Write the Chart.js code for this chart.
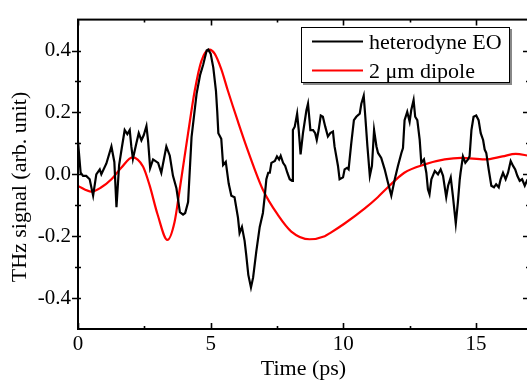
<!DOCTYPE html>
<html>
<head>
<meta charset="utf-8">
<script src="https://cdn.jsdelivr.net/npm/chart.js@4.4.0/dist/chart.umd.min.js"></script>
<style>
  html, body { margin: 0; padding: 0; background: #fff; overflow: hidden; }
  #wrap { width: 527px; height: 380px; overflow: hidden; }
</style>
</head>
<body>
<div id="wrap"><canvas id="chart" width="540" height="380"></canvas></div>
<script>
// heterodyne EO trace
const eoTime = [0, 0.1, 0.19, 0.31, 0.44, 0.57, 0.69, 0.82, 0.88, 1.07, 1.26, 1.37, 1.45, 1.55, 1.65, 1.76, 1.86, 1.95,
    2.01, 2.07, 2.2, 2.29, 2.39, 2.48, 2.58, 2.64, 2.72, 2.83, 3.02, 3.14, 3.33, 3.46, 3.58, 3.71, 3.77, 3.84, 3.96,
    4.04, 4.15, 4.28, 4.47, 4.6, 4.72, 4.85, 4.91, 5.0, 5.1, 5.2, 5.25, 5.29, 5.4, 5.47, 5.57, 5.68, 5.78, 5.9, 6.03,
    6.09, 6.18, 6.28, 6.34, 6.42, 6.52, 6.6, 6.72, 6.85, 6.97, 7.04, 7.1, 7.17, 7.23, 7.29, 7.42, 7.5, 7.58, 7.64,
    7.73, 7.81, 7.89, 7.98, 8.07, 8.1, 8.17, 8.26, 8.32, 8.39, 8.48, 8.61, 8.67, 8.76, 8.86, 8.94, 9.0, 9.07, 9.15,
    9.23, 9.32, 9.42, 9.51, 9.61, 9.67, 9.8, 9.86, 9.99, 10.05, 10.14, 10.2, 10.3, 10.4, 10.49, 10.62, 10.68, 10.77,
    10.83, 10.91, 11.0, 11.08, 11.16, 11.25, 11.31, 11.43, 11.56, 11.68, 11.81, 11.94, 12.06, 12.19, 12.25, 12.31,
    12.41, 12.5, 12.56, 12.65, 12.71, 12.79, 12.88, 12.94, 13.04, 13.13, 13.19, 13.25, 13.32, 13.45, 13.57, 13.67,
    13.76, 13.88, 13.95, 14.05, 14.13, 14.24, 14.32, 14.39, 14.42, 14.51, 14.6, 14.7, 14.76, 14.83, 14.91, 15.01,
    15.1, 15.18, 15.27, 15.33, 15.39, 15.48, 15.58, 15.68, 15.76, 15.86, 15.93, 16.02, 16.12, 16.21, 16.31, 16.4,
    16.48, 16.56, 16.65, 16.74, 16.84, 16.92, 17.0];
const eoSignal = [0.106, 0.005, -0.005, -0.005, -0.016, -0.069, 0.0, 0.016, 0.0, 0.035, 0.09, 0.04, -0.106, 0.03,
    0.085, 0.143, 0.13, 0.143, 0.09, 0.05, 0.1, 0.133, 0.11, 0.127, 0.156, 0.11, 0.02, 0.048, 0.037, 0.005, 0.09,
    0.06, -0.005, -0.045, -0.08, -0.122, -0.13, -0.125, -0.09, 0.12, 0.26, 0.32, 0.355, 0.4, 0.403, 0.39, 0.345,
    0.27, 0.2, 0.133, 0.115, 0.03, 0.04, -0.03, -0.069, -0.074, -0.14, -0.19, -0.17, -0.215, -0.26, -0.325, -0.366,
    -0.334, -0.25, -0.17, -0.125, -0.07, -0.016, 0.005, 0.005, 0.037, 0.043, 0.058, 0.048, 0.06, 0.037, 0.027,
    0.005, -0.016, -0.021, 0.143, 0.154, 0.196, 0.143, 0.064, 0.133, 0.207, 0.228, 0.143, 0.143, 0.133, 0.111,
    0.143, 0.19, 0.186, 0.154, 0.122, 0.133, 0.138, 0.09, 0.027, -0.016, -0.01, 0.016, 0.021, 0.016, 0.1, 0.175,
    0.186, 0.196, 0.228, 0.254, 0.186, 0.09, -0.005, 0.027, 0.143, 0.09, 0.069, 0.053, 0.016, -0.026, -0.069,
    -0.016, 0.027, 0.069, 0.085, 0.175, 0.202, 0.17, 0.207, 0.24, 0.186, 0.175, 0.111, 0.037, 0.048, 0.005,
    -0.048, -0.064, -0.016, 0.011, 0.0, 0.016, -0.005, -0.074, -0.037, -0.01, -0.069, -0.159, -0.09, -0.016,
    0.005, 0.058, 0.037, 0.048, 0.058, 0.143, 0.186, 0.19, 0.175, 0.133, 0.111, 0.08, 0.069, 0.016, -0.037,
    -0.042, -0.032, -0.042, -0.016, 0.005, -0.016, 0.005, 0.043, 0.027, 0.016, -0.005, -0.021, -0.016, -0.037,
    -0.021, -0.03];

// 2 um dipole simulation
const dipoleTime = [0, 0.5, 0.88, 1.26, 1.63, 2.05, 2.45, 2.7, 3.0, 3.37, 3.64, 3.84, 4.15, 4.4, 4.65, 4.96, 5.15,
    5.4, 5.65, 6.03, 6.41, 6.97, 7.54, 8.04, 8.73, 9.3, 9.5, 10.05, 10.8, 11.3, 11.68, 12.3, 13.07, 13.82,
    14.45, 15.33, 16.0, 16.5, 17.0];
const dipoleSignal = [-0.038, -0.056, -0.042, -0.016, 0.021, 0.055, 0.025, -0.036, -0.13, -0.212, -0.154, -0.045,
    0.133, 0.27, 0.366, 0.403, 0.39, 0.34, 0.27, 0.17, 0.075, -0.05, -0.132, -0.185, -0.21, -0.2, -0.19,
    -0.159, -0.111, -0.074, -0.042, 0.005, 0.032, 0.048, 0.053, 0.048, 0.058, 0.066, 0.06];

const seriesNames = ['heterodyne EO', '2 \u03bcm dipole'];
const seriesColors = ['#000000', '#ff0000'];
const xTicks = [0, 5, 10, 15];
const xMinorTicks = [2.5, 7.5, 12.5];
const yTicks = [-0.4, -0.2, 0.0, 0.2, 0.4];
const yMinorTicks = [-0.3, -0.1, 0.1, 0.3];
const xTitle = 'Time (ps)';
const yTitle = 'THz signal (arb. unit)';

const serif = "'Liberation Serif', 'Times New Roman', serif";

function toPoints(xs, ys) {
    return xs.map((t, i) => ({ x: t, y: ys[i] }));
}

// box frame with ticks on all four sides
const framePlugin = {
    id: 'frame',
    afterDraw(chart) {
        const { ctx, chartArea: a, scales } = chart;
        const x = scales.x, y = scales.y;
        ctx.save();
        ctx.strokeStyle = '#000';
        ctx.lineWidth = 2;
        ctx.strokeRect(a.left, a.top, a.right - a.left, a.bottom - a.top);

        ctx.lineWidth = 1.6;
        ctx.beginPath();
        const xt = (v, len) => {
            const px = Math.round(x.getPixelForValue(v)) + 0.5;
            ctx.moveTo(px, a.bottom); ctx.lineTo(px, a.bottom - len);
            ctx.moveTo(px, a.top); ctx.lineTo(px, a.top + len);
        };
        const yt = (v, len) => {
            const py = Math.round(y.getPixelForValue(v)) + 0.5;
            ctx.moveTo(a.left - len, py); ctx.lineTo(a.left + 3, py);
            ctx.moveTo(a.right, py); ctx.lineTo(a.right - len, py);
        };
        xTicks.forEach(v => xt(v, 6));
        xMinorTicks.forEach(v => xt(v, 3));
        yTicks.forEach(v => yt(v, 6));
        yMinorTicks.forEach(v => yt(v, 3));
        ctx.stroke();

        // y axis title
        ctx.fillStyle = '#000';
        ctx.font = '22px ' + serif;
        ctx.textAlign = 'center';
        ctx.textBaseline = 'middle';
        ctx.translate(20, 187);
        ctx.rotate(-Math.PI / 2);
        ctx.fillText(yTitle, 0, 0);
        ctx.restore();
    }
};

// framed legend in the upper right
const legendPlugin = {
    id: 'boxLegend',
    afterDraw(chart) {
        const { ctx } = chart;
        ctx.save();
        ctx.fillStyle = '#888';
        ctx.fillRect(303, 29, 209, 56);
        ctx.fillStyle = '#fff';
        ctx.fillRect(301, 27, 209, 56);
        ctx.strokeStyle = '#000';
        ctx.lineWidth = 1;
        ctx.strokeRect(301.5, 27.5, 208, 55);

        ctx.font = '22px ' + serif;
        ctx.textBaseline = 'alphabetic';
        ctx.textAlign = 'left';
        chart.data.datasets.forEach((ds, i) => {
            const ly = i === 0 ? 41.5 : 70.5;
            ctx.strokeStyle = ds.borderColor;
            ctx.lineWidth = 2.2;
            ctx.beginPath();
            ctx.moveTo(312, ly);
            ctx.lineTo(363, ly);
            ctx.stroke();
            ctx.fillStyle = '#000';
            ctx.fillText(ds.label, 369, ly + 7);
        });
        ctx.restore();
    }
};

new Chart(document.getElementById('chart'), {
    type: 'line',
    data: {
        datasets: [
            {
                label: seriesNames[0],
                data: toPoints(eoTime, eoSignal),
                borderColor: seriesColors[0],
                backgroundColor: seriesColors[0],
                borderWidth: 2.2,
                pointRadius: 0,
                tension: 0
            },
            {
                label: seriesNames[1],
                data: toPoints(dipoleTime, dipoleSignal),
                borderColor: seriesColors[1],
                backgroundColor: seriesColors[1],
                borderWidth: 2.2,
                pointRadius: 0,
                cubicInterpolationMode: 'monotone'
            }
        ]
    },
    options: {
        responsive: false,
        animation: false,
        events: [],
        layout: { padding: { left: 0, top: 14, right: 11, bottom: 0 } },
        plugins: {
            legend: { display: false },
            tooltip: { enabled: false }
        },
        scales: {
            x: {
                type: 'linear',
                min: 0,
                max: 17,
                afterBuildTicks: (scale) => { scale.ticks = xTicks.map(v => ({ value: v })); },
                afterFit: (scale) => { scale.height = 51; },
                grid: { display: false, drawTicks: false },
                border: { display: false },
                ticks: {
                    color: '#000',
                    padding: 3,
                    maxRotation: 0,
                    font: { family: serif, size: 21 },
                    callback: (v) => String(v)
                },
                title: {
                    display: true,
                    text: xTitle,
                    color: '#000',
                    padding: { top: 0, bottom: 0 },
                    font: { family: serif, size: 22, lineHeight: 1 }
                }
            },
            y: {
                type: 'linear',
                min: -0.5,
                max: 0.5,
                afterBuildTicks: (scale) => { scale.ticks = yTicks.map(v => ({ value: v })); },
                afterFit: (scale) => { scale.width = 78; },
                grid: { display: false, drawTicks: false },
                border: { display: false },
                ticks: {
                    color: '#000',
                    padding: 7,
                    font: { family: serif, size: 21 },
                    callback: (v) => v.toFixed(1)
                }
            }
        }
    },
    plugins: [framePlugin, legendPlugin]
});
</script>
</body>
</html>
